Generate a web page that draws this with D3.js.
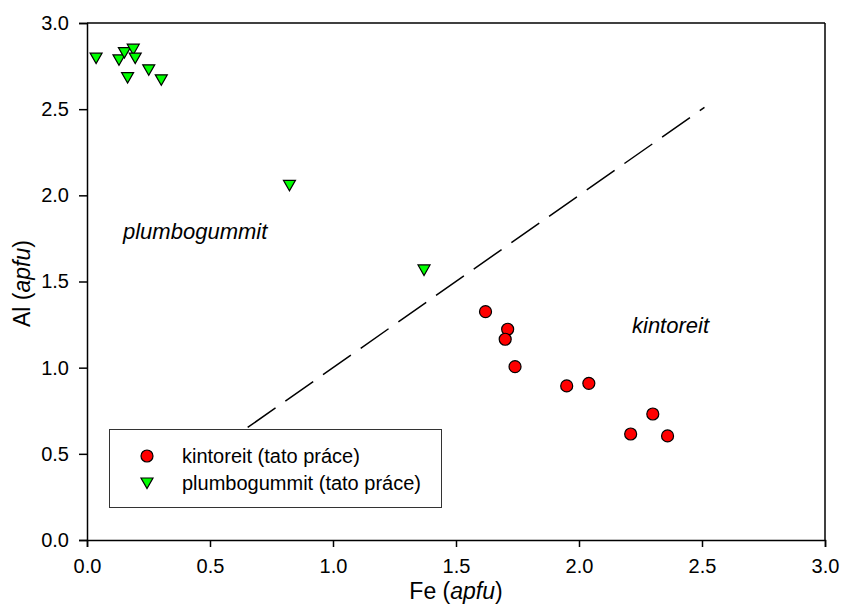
<!DOCTYPE html>
<html>
<head>
<meta charset="utf-8">
<script src="https://cdn.jsdelivr.net/npm/d3@7"></script>
<style>
  body { margin: 0; background: #fff; }
  text { font-family: Arial, "Liberation Sans", sans-serif; fill: #000; }
</style>
</head>
<body>
<svg id="chart" width="842" height="610"></svg>
<script>
// ---- data ----
const feKintoreit = [1.62, 1.71, 1.70, 1.74, 1.95, 2.04, 2.30, 2.21, 2.36];
const alKintoreit = [1.325, 1.223, 1.165, 1.006, 0.894, 0.909, 0.731, 0.615, 0.604];
const fePlumbo = [0.037, 0.130, 0.152, 0.188, 0.196, 0.165, 0.251, 0.302, 0.823, 1.370];
const alPlumbo = [2.796, 2.786, 2.828, 2.848, 2.796, 2.683, 2.728, 2.670, 2.058, 1.567];
const boundaryFe = [0.5, 2.51];
const boundaryAl = [0.5, 2.51];
const xTicks = [0, 0.5, 1.0, 1.5, 2.0, 2.5, 3.0];
const yTicks = [0, 0.5, 1.0, 1.5, 2.0, 2.5, 3.0];
const legendLabels = ["kintoreit (tato práce)", "plumbogummit (tato práce)"];

// ---- layout ----
const svg = d3.select("#chart");
const m = {left: 87, top: 23, right: 17, bottom: 70};
const W = 842 - m.left - m.right, H = 610 - m.top - m.bottom;
const x = d3.scaleLinear().domain([0, 3]).range([m.left, m.left + W]);
const y = d3.scaleLinear().domain([0, 3]).range([m.top + H, m.top]);

// frame (top and right)
svg.append("line").attr("x1", x(0)).attr("x2", x(3)).attr("y1", y(3)).attr("y2", y(3))
  .attr("stroke", "#000").attr("stroke-width", 1.5);
svg.append("line").attr("x1", x(3)).attr("x2", x(3)).attr("y1", y(0)).attr("y2", y(3))
  .attr("stroke", "#000").attr("stroke-width", 1.5);

// axes
const xAxis = svg.append("g").attr("transform", `translate(0,${y(0)})`)
  .call(d3.axisBottom(x).tickValues(xTicks).tickFormat(d3.format(".1f")).tickSize(7).tickPadding(12));
const yAxis = svg.append("g").attr("transform", `translate(${x(0)},0)`)
  .call(d3.axisLeft(y).tickValues(yTicks).tickFormat(d3.format(".1f")).tickSize(8).tickPadding(10));
[xAxis, yAxis].forEach(g => {
  g.select(".domain").attr("stroke", "#000").attr("stroke-width", 1.5);
  g.selectAll(".tick line").attr("stroke", "#000").attr("stroke-width", 1.5);
  g.selectAll(".tick text").style("font-size", "20px").style("font-family", "Arial, 'Liberation Sans', sans-serif");
});

// axis titles
const xt = svg.append("text").attr("x", x(1.5)).attr("y", 599).attr("text-anchor", "middle").style("font-size", "23px");
xt.append("tspan").text("Fe (");
xt.append("tspan").attr("font-style", "italic").text("apfu");
xt.append("tspan").text(")");
const yt = svg.append("text").attr("transform", `translate(30,${y(1.5) + 2}) rotate(-90)`)
  .attr("text-anchor", "middle").style("font-size", "23px");
yt.append("tspan").text("Al (");
yt.append("tspan").attr("font-style", "italic").text("apfu");
yt.append("tspan").text(")");

// boundary dashed line
svg.append("line")
  .attr("x1", x(boundaryFe[0])).attr("y1", y(boundaryAl[0]))
  .attr("x2", x(boundaryFe[1])).attr("y2", y(boundaryAl[1]))
  .attr("stroke", "#000").attr("stroke-width", 1.5).attr("stroke-dasharray", "34,12");

// field labels
svg.append("text").attr("x", 123).attr("y", 239).attr("font-style", "italic").style("font-size", "22px").text("plumbogummit");
svg.append("text").attr("x", 632).attr("y", 333).attr("font-style", "italic").style("font-size", "22px").text("kintoreit");

// markers
const tri = "M-6,-5L6,-5L0,5.5Z";
svg.append("g").selectAll("path").data(fePlumbo.map((d, i) => [d, alPlumbo[i]])).join("path")
  .attr("d", tri).attr("transform", d => `translate(${x(d[0])},${y(d[1])})`)
  .attr("fill", "#00ff00").attr("stroke", "#000").attr("stroke-width", 1.2);
svg.append("g").selectAll("circle").data(feKintoreit.map((d, i) => [d, alKintoreit[i]])).join("circle")
  .attr("cx", d => x(d[0])).attr("cy", d => y(d[1])).attr("r", 6)
  .attr("fill", "#ff0000").attr("stroke", "#000").attr("stroke-width", 1.2);

// legend
const lg = svg.append("g");
lg.append("rect").attr("x", 109.5).attr("y", 429.5).attr("width", 332).attr("height", 78)
  .attr("fill", "#fff").attr("stroke", "#333").attr("stroke-width", 1);
lg.append("circle").attr("cx", 147).attr("cy", 456).attr("r", 6)
  .attr("fill", "#ff0000").attr("stroke", "#000").attr("stroke-width", 1.2);
lg.append("path").attr("d", tri).attr("transform", "translate(147,483)")
  .attr("fill", "#00ff00").attr("stroke", "#000").attr("stroke-width", 1.2);
lg.selectAll("text.lab").data(legendLabels).join("text").attr("class", "lab")
  .attr("x", 182).attr("y", (d, i) => 463 + i * 27).style("font-size", "20px").text(d => d);
</script>
</body>
</html>
